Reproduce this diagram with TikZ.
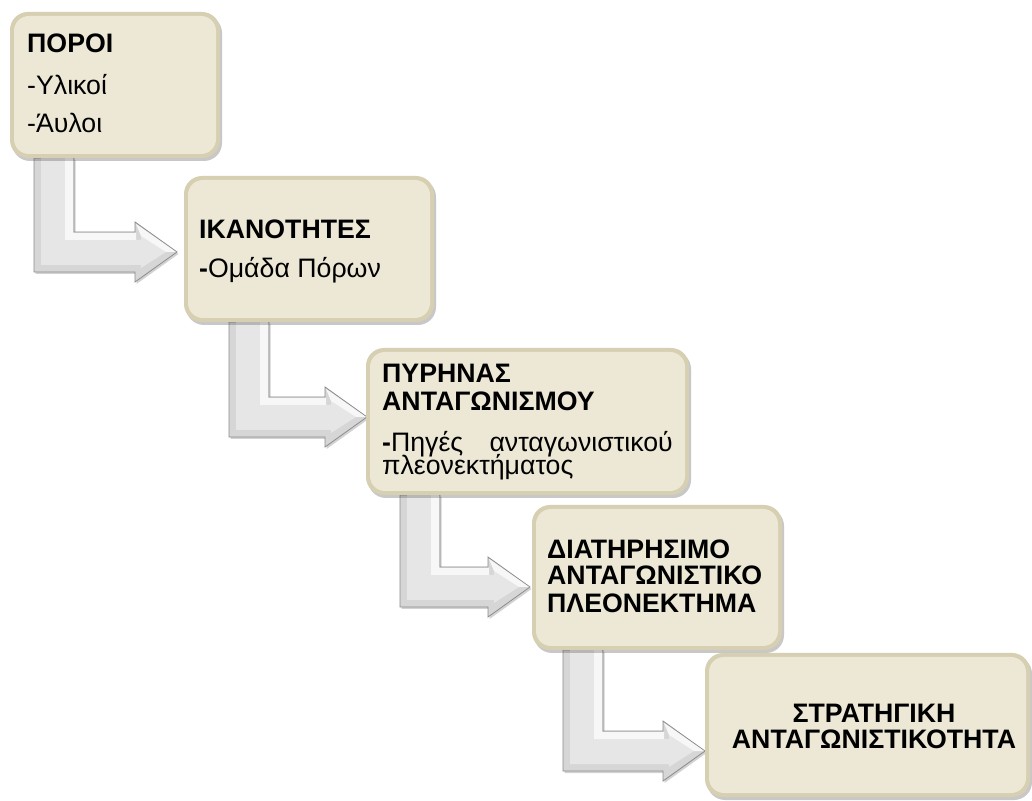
\documentclass[tikz,border=0pt]{standalone}
\usepackage{fontspec}
\setmainfont{Liberation Sans}
\usetikzlibrary{calc,shadows}
\pgfdeclarelayer{bg}
\pgfsetlayers{bg,main}
\definecolor{boxedge}{RGB}{214,207,178}
\definecolor{boxfill}{RGB}{236,232,213}
\definecolor{arredge}{RGB}{140,140,140}
\definecolor{arrfill}{RGB}{214,214,214}
\definecolor{arrlight}{RGB}{230,230,230}
\definecolor{arrhigh}{RGB}{247,247,247}
\tikzset{
  stagebox/.style={fill=boxedge, rounded corners=18pt, inner sep=0pt, outer sep=0pt,
    drop shadow={shadow xshift=2pt, shadow yshift=-3pt, opacity=0.3, fill=black!70}},
  boxface/.style={fill=boxfill, rounded corners=15pt},
  ttl/.style={font=\fontsize{26.7}{28}\selectfont\bfseries, inner sep=0pt, anchor=base west},
  txt/.style={font=\fontsize{26.7}{28}\selectfont, inner sep=0pt, anchor=base west},
  arrbody/.style={fill=arrfill, draw=arredge, line width=0.8pt, line join=miter,
    drop shadow={shadow xshift=1.5pt, shadow yshift=-2pt, opacity=0.25, fill=black!70}},
  arrface/.style={fill=arrlight},
  arrhi/.style={fill=arrhigh},
}
\newcommand\bentarrow[2]{%
  \path[arrbody] let \p1=(#1), \p2=(#2) in
    (\x1,\y1) -- (\x1+40pt,\y1) -- (\x1+40pt,\y2+20pt) -- (\x2-42pt,\y2+20pt)
    -- (\x2-42pt,\y2+30pt) -- (\x2,\y2) -- (\x2-42pt,\y2-30pt) -- (\x2-42pt,\y2-20pt)
    -- (\x1,\y2-20pt) -- cycle;
  \path[arrface] let \p1=(#1), \p2=(#2) in
    (\x1+7pt,\y1) -- (\x1+31pt,\y1) -- (\x1+31pt,\y2+12pt) -- (\x2-36pt,\y2+12pt)
    -- (\x2-36pt,\y2+16pt) -- (\x2-11pt,\y2) -- (\x2-36pt,\y2-16pt) -- (\x2-36pt,\y2-13pt)
    -- (\x1+7pt,\y2-13pt) -- cycle;
  \path[arrhi] let \p1=(#1), \p2=(#2) in
    (\x1+31pt,\y1) -- (\x1+39pt,\y1) -- (\x1+39pt,\y2+19pt) -- (\x2-41pt,\y2+19pt)
    -- (\x2-41pt,\y2+12pt) -- (\x1+31pt,\y2+12pt) -- cycle;
  \path[arrhi] let \p1=(#1), \p2=(#2) in
    (\x2-41pt,\y2+28pt) -- (\x2-1pt,\y2) -- (\x2-11pt,\y2) -- (\x2-36pt,\y2+16pt) -- cycle;
}
\begin{document}
\begin{tikzpicture}[x=1pt,y=1pt]
\useasboundingbox (0,0) rectangle (1032,800);

% boxes
\node[stagebox, minimum width=210pt, minimum height=146pt] (b1) at (115,715) {};
\node[stagebox, minimum width=250pt, minimum height=146pt] (b2) at (309,551) {};
\node[stagebox, minimum width=323pt, minimum height=147pt] (b3) at (527.5,378.5) {};
\node[stagebox, minimum width=250pt, minimum height=145pt] (b4) at (657,222.5) {};
\node[stagebox, minimum width=325pt, minimum height=144pt] (b5) at (867.5,75) {};
\foreach \b in {b1,b2,b3,b4,b5}{
  \path[boxface] ([shift={(4pt,-4pt)}]\b.north west) rectangle ([shift={(-4pt,4pt)}]\b.south east);
}

% connectors
\coordinate (a1s) at ([xshift=24pt]b1.south west);
\coordinate (a1t) at ([shift={(-7pt,-3pt)}]b2.west);
\coordinate (a2s) at ([xshift=45pt]b2.south west);
\coordinate (a2t) at ([shift={(1pt,4.5pt)}]b3.west);
\coordinate (a3s) at ([xshift=34pt]b3.south west);
\coordinate (a3t) at ([shift={(-2pt,-9.5pt)}]b4.west);
\coordinate (a4s) at ([xshift=31pt]b4.south west);
\coordinate (a4t) at ([shift={(0pt,-26pt)}]b5.west);
\begin{pgfonlayer}{bg}
  \fill[white] (0,0) rectangle (1032,800);
  \bentarrow{a1s}{a1t}
  \bentarrow{a2s}{a2t}
  \bentarrow{a3s}{a3t}
  \bentarrow{a4s}{a4t}
\end{pgfonlayer}

% texts
\node[ttl] (t1a) at (27,747) {ΠΟΡΟΙ};
\node[txt] (t1b) at (27,705) {-Υλικοί};
\node[txt] (t1c) at (27,667) {-Άυλοι};

\node[ttl] (t2a) at (199,561) {ΙΚΑΝΟΤΗΤΕΣ};
\node[txt] (t2b) at (199,522) {\textbf{-}Ομάδα Πόρων};

\node[ttl] (t3a) at (382,417) {ΠΥΡΗΝΑΣ};
\node[ttl] (t3b) at (382,389) {ΑΝΤΑΓΩΝΙΣΜΟΥ};
\node[txt] (t3c) at (382,348) {\textbf{-}Πηγές};
\node[txt, anchor=base east] (t3d) at (673,348) {ανταγωνιστικού};
\node[txt] (t3e) at (382,325) {πλεονεκτήματος};

\node[ttl] (t4a) at (547,241) {ΔΙΑΤΗΡΗΣΙΜΟ};
\node[ttl] (t4b) at (547,215) {ΑΝΤΑΓΩΝΙΣΤΙΚΟ};
\node[ttl] (t4c) at (547,187) {ΠΛΕΟΝΕΚΤΗΜΑ};

\node[ttl, anchor=base] (t5a) at (874,78) {ΣΤΡΑΤΗΓΙΚΗ};
\node[ttl, anchor=base] (t5b) at (874,52) {ΑΝΤΑΓΩΝΙΣΤΙΚΟΤΗΤΑ};
\end{tikzpicture}
\end{document}
